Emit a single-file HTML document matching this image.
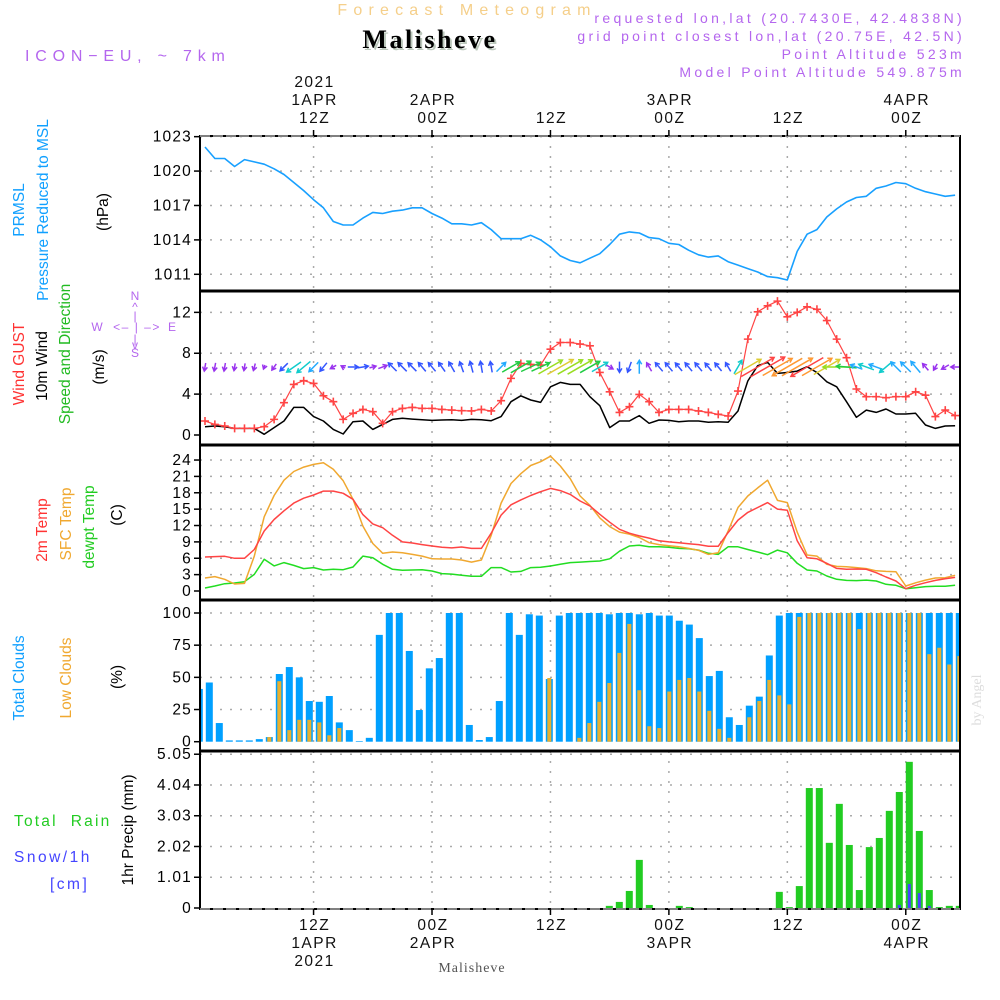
<!DOCTYPE html>
<html><head><meta charset="utf-8"><title>Meteogram Malisheve</title>
<style>
html,body{margin:0;padding:0;background:#fff;}
svg{display:block;font-family:"Liberation Sans",sans-serif;}
</style></head>
<body>
<svg id="chart" width="1000" height="1000" viewBox="0 0 1000 1000" xmlns="http://www.w3.org/2000/svg">
<g id="header">
<text x="467" y="15" text-anchor="middle" font-size="16" fill="#f5cf8a" letter-spacing="6.2">Forecast Meteogram</text>
<text x="432" y="50" text-anchor="middle" font-size="26" font-weight="bold" font-family="Liberation Serif, serif" fill="#bcc8bc" letter-spacing="2.5">Malisheve</text>
<text x="430" y="48" text-anchor="middle" font-size="26" font-weight="bold" font-family="Liberation Serif, serif" fill="#000" letter-spacing="2.5">Malisheve</text>
<text x="25" y="61" font-size="16" fill="#b466ee" letter-spacing="5.8">ICON−EU, ~ 7km</text>
<g font-size="14" fill="#b466ee" text-anchor="end" letter-spacing="3.3">
<text x="965" y="23">requested lon,lat (20.7430E, 42.4838N)</text>
<text x="965" y="41">grid point closest lon,lat (20.75E, 42.5N)</text>
<text x="965" y="59">Point Altitude 523m</text>
<text x="965" y="77">Model Point Altitude 549.875m</text>
</g>
</g>
<g id="grid"></g>
<g id="marks"></g>
<g id="frames"></g>
<g id="labels" font-size="15.5">
<text transform="translate(24,210) rotate(-90)" text-anchor="middle" fill="#10a0ff">PRMSL</text>
<text transform="translate(48,210) rotate(-90)" text-anchor="middle" fill="#10a0ff">Pressure Reduced to MSL</text>
<text transform="translate(108,212) rotate(-90)" text-anchor="middle" fill="#000">(hPa)</text>
<text transform="translate(24,364) rotate(-90)" text-anchor="middle" fill="#ff3333">Wind GUST</text>
<text transform="translate(47,366) rotate(-90)" text-anchor="middle" fill="#000">10m Wind</text>
<text transform="translate(70,354) rotate(-90)" text-anchor="middle" fill="#22bb22">Speed and Direction</text>
<text transform="translate(104,367) rotate(-90)" text-anchor="middle" fill="#000">(m/s)</text>
<g fill="#b466ee" font-size="12" text-anchor="middle">
<text x="135" y="300">N</text><text x="135" y="311">^</text><text x="135" y="320">|</text>
<text x="97" y="331">W</text><text x="137" y="331" letter-spacing="1.5">&lt;– | –&gt;</text><text x="172" y="331">E</text>
<text x="135" y="343">|</text><text x="135" y="349">v</text><text x="135" y="357">S</text>
</g>
<text transform="translate(47,530) rotate(-90)" text-anchor="middle" fill="#ff3333">2m Temp</text>
<text transform="translate(71,524) rotate(-90)" text-anchor="middle" fill="#f0a830">SFC Temp</text>
<text transform="translate(94,527) rotate(-90)" text-anchor="middle" fill="#22cc22">dewpt Temp</text>
<text transform="translate(122,515) rotate(-90)" text-anchor="middle" fill="#000">(C)</text>
<text transform="translate(24,678) rotate(-90)" text-anchor="middle" fill="#10a0ff">Total Clouds</text>
<text transform="translate(71,678) rotate(-90)" text-anchor="middle" fill="#f0a830">Low Clouds</text>
<text transform="translate(122,677) rotate(-90)" text-anchor="middle" fill="#000">(%)</text>
<text x="14" y="826" fill="#22cc22" letter-spacing="2.2" xml:space="preserve">Total  Rain</text>
<text x="14" y="862" fill="#4444ff" letter-spacing="2.5">Snow/1h</text>
<text x="50" y="889" fill="#4444ff" letter-spacing="2.5">[cm]</text>
<text transform="translate(133,830) rotate(-90)" text-anchor="middle" fill="#000">1hr Precip (mm)</text>
<text x="472" y="972" text-anchor="middle" font-size="14" font-family="Liberation Serif, serif" fill="#555" letter-spacing="1">Malisheve</text>
<text transform="translate(981,700) rotate(-90)" text-anchor="middle" font-size="14" font-family="Liberation Serif, serif" fill="#ddd">by Angel</text>
</g>
</svg>
<script>
const times = ["1APR 12Z","2APR 00Z","2APR 12Z","3APR 00Z","3APR 12Z","4APR 00Z"];
const timeHours = [12,24,36,48,60,72];
const topLabels = [["2021","1APR","12Z"],["2APR","00Z"],["12Z"],["3APR","00Z"],["12Z"],["4APR","00Z"]];
const bottomLabels = [["12Z","1APR","2021"],["00Z","2APR"],["12Z"],["00Z","3APR"],["12Z"],["00Z","4APR"]];
const pressure = [1022.1,1021.1,1021.1,1020.4,1021.0,1020.8,1020.6,1020.2,1019.7,1019.0,1018.3,1017.5,1016.8,1015.6,1015.3,1015.3,1015.9,1016.4,1016.3,1016.5,1016.6,1016.8,1016.8,1016.3,1015.9,1015.4,1015.4,1015.3,1015.5,1014.9,1014.1,1014.1,1014.1,1014.4,1014.0,1013.4,1012.6,1012.2,1012.0,1012.4,1012.8,1013.6,1014.5,1014.7,1014.6,1014.2,1014.1,1013.7,1013.6,1013.1,1012.7,1012.5,1012.6,1012.1,1011.8,1011.5,1011.2,1010.8,1010.7,1010.5,1013.0,1014.5,1014.9,1016.0,1016.7,1017.3,1017.7,1017.8,1018.5,1018.7,1019.0,1018.9,1018.5,1018.2,1018.0,1017.8,1017.9];
const gust = [1.37,1.04,0.88,0.65,0.65,0.65,0.81,1.53,3.16,4.95,5.31,5.05,3.84,3.26,1.53,2.12,2.5,2.28,1.14,2.28,2.6,2.7,2.6,2.6,2.5,2.44,2.38,2.35,2.5,2.35,3.36,5.54,7.0,6.9,6.84,8.4,9.05,9.05,8.9,8.73,6.12,4.23,2.21,2.77,3.97,3.26,2.21,2.5,2.5,2.5,2.35,2.21,2.02,1.86,4.3,9.38,12.05,12.64,13.1,11.56,12.0,12.54,12.3,11.2,9.38,7.56,4.5,3.75,3.75,3.65,3.75,3.75,4.23,3.9,1.8,2.44,1.9];
const wind = [0.81,0.88,0.81,0.65,0.65,0.65,0.07,0.72,1.37,2.7,2.7,1.8,1.37,0.55,0.1,1.3,1.37,0.55,1.04,1.53,1.63,1.56,1.5,1.43,1.47,1.5,1.43,1.53,1.5,1.4,1.8,3.26,3.84,3.42,3.19,4.72,5.15,4.95,4.95,3.75,2.87,0.72,1.37,1.37,1.9,1.14,1.47,1.43,1.3,1.37,1.37,1.24,1.3,1.24,2.35,5.28,6.78,7.1,6.03,6.12,6.25,6.68,6.12,5.21,4.72,3.26,1.73,2.44,2.21,2.54,2.05,2.05,2.12,0.98,0.65,0.88,0.91];
const windDir = [190,190,190,190,190,195,200,215,225,235,230,225,220,240,300,90,80,75,70,315,315,315,320,320,325,330,340,345,350,350,45,60,60,65,65,60,60,60,60,60,60,120,180,200,0,330,320,320,320,320,320,320,320,330,30,60,60,60,60,240,60,240,60,60,270,275,290,290,290,230,315,315,320,320,210,240,270];
const temp2m = [6.23,6.3,6.35,6.0,6.0,7.6,11.0,13.1,14.7,16.1,17.0,17.6,18.3,18.3,17.9,16.8,14.0,12.3,11.6,10.2,9.0,8.8,8.5,8.25,8.0,7.9,8.06,7.8,7.8,10.6,13.9,15.8,16.7,17.5,18.2,18.8,18.4,17.7,16.5,15.6,14.05,12.6,11.3,10.6,10.1,9.7,9.2,9.0,8.86,8.67,8.5,8.2,8.2,10.7,13.0,14.4,15.3,16.2,15.0,14.8,9.2,6.1,5.9,5.07,4.15,3.97,4.03,3.97,3.36,2.57,1.83,0.43,1.04,1.53,1.95,2.26,2.5];
const tempSfc = [2.38,2.63,2.14,1.28,1.4,6.4,13.6,17.5,20.3,21.9,22.7,23.2,23.5,22.3,20.2,16.8,11.9,8.7,6.9,7.15,7.0,6.7,6.4,5.9,5.86,5.86,5.68,5.3,5.68,10.2,16.1,19.7,21.5,23.0,23.7,24.7,22.9,20.6,17.4,15.7,13.4,11.8,10.8,10.4,9.8,8.86,8.5,8.3,8.1,7.8,7.45,6.7,7.0,11.0,15.3,17.4,18.9,20.3,16.6,16.2,10.8,6.6,6.4,4.9,4.5,4.46,4.28,4.1,3.7,3.6,3.54,0.92,1.5,2.0,2.38,2.44,2.87];
const dewpt = [0.55,0.92,1.34,1.47,1.71,3.05,5.8,4.6,5.2,4.7,4.1,4.28,3.85,3.97,3.9,4.4,6.4,6.1,4.9,3.97,3.8,3.85,3.9,3.67,3.18,3.1,2.87,2.7,2.7,4.28,4.28,3.48,3.6,4.28,4.34,4.58,4.9,5.2,5.3,5.4,5.5,5.9,7.3,8.25,8.4,8.1,8.1,8.0,7.8,7.76,7.5,6.9,6.7,8.1,8.1,7.6,7.15,6.66,7.5,7.0,5.07,3.85,3.67,2.75,2.14,1.95,1.9,2.0,1.83,1.22,1.04,0.43,0.6,0.8,0.86,0.86,1.04];
const totalClouds = [41,46,14.5,1,1,1,2,3.6,52.6,58,50,31.6,31,35.5,15,9,0.5,3,83,100,100,70.5,24.6,57,65,100,100,13,1.3,3.6,31.6,100,83,99,98,48.7,98,100,100,100,100,99,100,100,99,100,98,98,94,91,80.5,51,55,19,13,28,35,67,98,100,100,100,100,100,100,100,100,100,100,100,100,100,100,100,100,100,100];
const lowClouds = [0,0,0,0,0,0,0,3.6,47,9,17,17,15,5,10.6,0,0,0,0,0,0,0,0,0,0,0,0,0,0,0,0,0,0,0,0,49.5,0,0,3,14.5,31,45.6,69,91.5,40,12,10.6,39,48,49.5,39,24,10,3,0,19,31.6,48,36,29,97,100,100,100,100,100,87.5,100,100,100,100,100,100,68,73,60,66.5];
const rain = [0,0,0,0,0,0,0,0,0,0,0,0,0,0,0,0,0,0,0,0,0,0,0,0,0,0,0,0,0,0,0,0,0,0,0,0,0,0,0,0,0,0.07,0.2,0.56,1.58,0.1,0,0,0.07,0.03,0,0,0,0,0,0,0,0,0.53,0.03,0.72,3.94,3.94,2.14,3.42,2.07,0.59,2.0,2.3,3.19,3.81,4.8,2.53,0.59,0.03,0.07,0.07];
const snow = [0,0,0,0,0,0,0,0,0,0,0,0,0,0,0,0,0,0,0,0,0,0,0,0,0,0,0,0,0,0,0,0,0,0,0,0,0,0,0,0,0,0,0,0,0,0,0,0,0,0,0,0,0,0,0,0,0,0,0,0,0,0,0,0,0,0,0,0,0,0,0.1,0.79,0.49,0.07,0,0,0];
const pTicks = [1023,1020,1017,1014,1011];
const wTicks = [0,4,8,12];
const tTicks = [0,3,6,9,12,15,18,21,24];
const cTicks = [0,25,50,75,100];
const rTicks = [0,1.01,2.02,3.03,4.04,5.05];

const NS="http://www.w3.org/2000/svg";
const X0=200,X1=960;
const xl=k=>205+9.87*k;
const xt=h=>205+9.87*(h-1);
const xb=i=>199.3+10*i;
const yP=v=>274.3-(v-1011)*11.47;
const yW=v=>435-v*10.22;
const yT=v=>591-v*5.457;
const yC=v=>741.7-v*1.287;
const yR=v=>908-v*30.45;
const panels=[{t:136,b:291,f:yP,ticks:pTicks,n:"pressure"},{t:291,b:445,f:yW,ticks:wTicks,n:"wind"},{t:445,b:600,f:yT,ticks:tTicks,n:"temperature"},{t:600,b:751,f:yC,ticks:cTicks,n:"clouds"},{t:751,b:909,f:yR,ticks:rTicks,n:"precip"}];
function mk(tag,attrs,parent){const e=document.createElementNS(NS,tag);for(const k in attrs)e.setAttribute(k,attrs[k]);parent.appendChild(e);return e;}
const grid=document.getElementById('grid'),marks=document.getElementById('marks'),frames=document.getElementById('frames');

panels.forEach(p=>{
  p.ticks.forEach(v=>{
    const y=p.f(v);
    if(v!==p.ticks[0]||p.n==="pressure"){
      const g=mk('line',{x1:X0,x2:X1,y1:y,y2:y,stroke:'#aaa','stroke-width':1.5,'stroke-dasharray':'2,8'},grid);
      
      
    }
    const tk=mk('line',{x1:X0-6,x2:X0,y1:y,y2:y,stroke:'#000','stroke-width':1.5},frames);
    
    
    const lb=mk('text',{x:X0-8,y:y+5,'text-anchor':'end','font-size':15.5,fill:'#000','letter-spacing':'1.2'},frames);
    
    
    lb.textContent=String(v);
  });
  timeHours.forEach(h=>{
    const vg=mk('line',{x1:xt(h),x2:xt(h),y1:p.t,y2:p.b,stroke:'#aaa','stroke-width':1.5,'stroke-dasharray':'2,8'},grid);
    
    
  });
});
const fr=mk('rect',{x:X0,y:136,width:X1-X0,height:909-136,fill:'none',stroke:'#000','stroke-width':2},frames);


[291,445,600,751].forEach(y=>{
  const l=mk('line',{x1:X0,x2:X1,y1:y,y2:y,stroke:'#000','stroke-width':3},frames);
  
  
});
mk('line',{x1:X0,x2:X1,y1:136,y2:136,stroke:'#fff','stroke-width':1,'stroke-dasharray':'10,3'},frames);
mk('line',{x1:X0,x2:X1,y1:909,y2:909,stroke:'#fff','stroke-width':1,'stroke-dasharray':'10,3'},frames);
timeHours.forEach((h,j)=>{
  const top=topLabels[j];
  top.forEach((s,m)=>{
    const t=mk('text',{x:xt(h)+1,y:123-(top.length-1-m)*18,'text-anchor':'middle','font-size':15.5,fill:'#111','letter-spacing':'1.5'},frames);
    
    
    t.textContent=s;
  });
  bottomLabels[j].forEach((s,m)=>{
    const t=mk('text',{x:xt(h)+1,y:930+m*18,'text-anchor':'middle','font-size':15.5,fill:'#111','letter-spacing':'1.5'},frames);
    
    
    t.textContent=s;
  });
  const t1=mk('line',{x1:xt(h),x2:xt(h),y1:130,y2:136,stroke:'#000','stroke-width':1.5},frames);
  
  
  const t2=mk('line',{x1:xt(h),x2:xt(h),y1:909,y2:915,stroke:'#000','stroke-width':1.5},frames);
  
  
});
const defs=mk('defs',{},marks);
const cp=mk('clipPath',{id:'pc'},defs);mk('rect',{x:X0+1,y:136,width:X1-X0-2,height:773},cp);
const mg=mk('g',{'clip-path':'url(#pc)'},marks);
function line(arr,fx,fy,color,name,w){
  const pts=arr.map((v,k)=>fx(k).toFixed(1)+','+fy(v).toFixed(1)).join(' ');
  const pl=mk('polyline',{points:pts,fill:'none',stroke:color,'stroke-width':w||1.5,'stroke-linejoin':'round'},mg);
  
  
}
line(pressure,xl,yP,'#18a0ff','pressure-line',1.6);
totalClouds.forEach((v,i)=>{
  const r=mk('rect',{x:xb(i)-3.5,y:yC(v),width:7,height:Math.max(0,yC(0)-yC(v)),fill:'#00a0ff'},mg);
  
  
});
lowClouds.forEach((v,i)=>{
  const r=mk('rect',{x:xb(i)-2,y:yC(v),width:4,height:Math.max(0,yC(0)-yC(v)),fill:'#e8b030'},mg);
  
  
});
rain.forEach((v,i)=>{
  const r=mk('rect',{x:xb(i)-3.5,y:yR(v),width:7,height:Math.max(0,yR(0)-yR(v)),fill:'#22cc22'},mg);
  
  
});
snow.forEach((v,i)=>{
  const r=mk('rect',{x:xb(i)-1.5,y:yR(v),width:3,height:Math.max(0,yR(0)-yR(v)),fill:'#4444ff'},mg);
  
  
});
line(dewpt,xl,yT,'#22dd22','dewpoint-line');
line(tempSfc,xl,yT,'#f0a830','sfc-temp-line');
line(temp2m,xl,yT,'#ff4444','temp-2m-line');
line(wind,xl,yW,'#000','wind-speed-line');
line(gust,xl,yW,'#ff4444','gust-line',1.2);
gust.forEach((v,k)=>{
  const x=xl(k),y=yW(v);
  const p=mk('path',{d:`M${x-4},${y}H${x+4}M${x},${y-4}V${y+4}`,stroke:'#ff4444','stroke-width':1.6},mg);
  
  
});
function speedColor(s){
  if(s<1.2)return '#9933ee';if(s<1.7)return '#3355ff';if(s<2.3)return '#22aaff';if(s<3)return '#11cccc';
  if(s<4)return '#22cc44';if(s<5)return '#99dd22';if(s<6)return '#ddcc33';if(s<6.5)return '#ff9933';return '#ff4444';
}
wind.forEach((s,k)=>{
  const a=windDir[k]*Math.PI/180,L=4+s*5;
  const dx=Math.sin(a)*L/2,dy=-Math.cos(a)*L/2;
  const cx=xl(k),cy=367;
  const hx=cx+dx,hy=cy+dy,bx=cx-dx,by=cy-dy;
  const ux=Math.sin(a),uy=-Math.cos(a),h=4;
  const l1x=hx-h*ux+h*0.6*uy,l1y=hy-h*uy-h*0.6*ux,l2x=hx-h*ux-h*0.6*uy,l2y=hy-h*uy+h*0.6*ux;
  const p=mk('path',{d:`M${bx.toFixed(1)},${by.toFixed(1)}L${hx.toFixed(1)},${hy.toFixed(1)}M${l1x.toFixed(1)},${l1y.toFixed(1)}L${hx.toFixed(1)},${hy.toFixed(1)}L${l2x.toFixed(1)},${l2y.toFixed(1)}`,stroke:speedColor(s),'stroke-width':1.5,fill:'none'},mg);
  
  
});
</script>
</body></html>
